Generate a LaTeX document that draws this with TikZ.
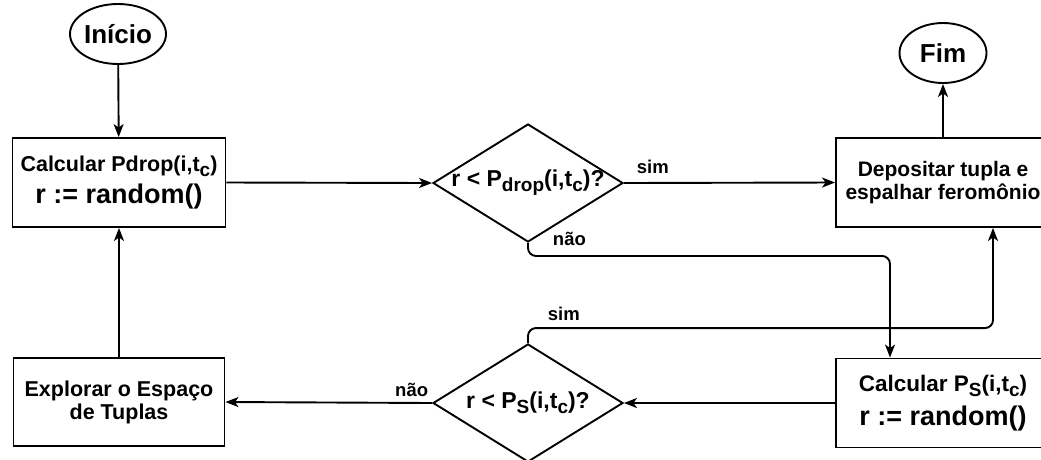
\documentclass[tikz,border=0pt]{standalone}
\usepackage{fontspec}
\setmainfont{Liberation Sans}
\usetikzlibrary{arrows.meta,shapes.geometric}
\newcommand\sbx[1]{\raisebox{-5pt}{\fontsize{19}{21}\selectfont #1}}
\begin{document}
\begin{tikzpicture}[x=1pt,y=-1pt,
  lw/.style={line width=1.9pt},
  box/.style={draw, lw, rectangle, minimum width=213pt, minimum height=89pt, inner sep=0pt, align=center},
  term/.style={draw, lw, ellipse, minimum width=87pt, minimum height=60pt, inner sep=0pt, font=\bfseries\fontsize{26}{30}\selectfont},
  dia/.style={draw, lw, diamond, minimum width=190pt, minimum height=118pt, inner sep=0pt},
  dtext/.style={inner sep=0pt, font=\bfseries\fontsize{23}{26}\selectfont},
  lbl/.style={inner sep=0pt, font=\bfseries\fontsize{18.5}{22}\selectfont},
  arr/.style={lw, -{Stealth[length=13pt,width=10pt,inset=3.5pt]}}
]
\useasboundingbox (0,0) rectangle (1041,459);
% terminals
\node[term] (ini) at (118,34) {Início};
\node[term] (fim) at (943,53) {Fim};
% boxes
\node[box, font=\bfseries\fontsize{27}{32}\selectfont] (c1) at (119,182.5)
  {{\fontsize{21.5}{25}\selectfont Calcular Pdrop(i,t\sbx{c})}\\ r := random()};
\node[box, minimum width=214pt, font=\bfseries\fontsize{21}{23}\selectfont] (dep) at (943,182.5)
  {Depositar tupla e\\ espalhar feromônio};
\node[box, minimum width=214pt, font=\bfseries\fontsize{27}{34}\selectfont] (c4) at (943,403)
  {{\fontsize{22.5}{26}\selectfont Calcular P\sbx{S}(i,t\sbx{c})}\\ r := random()};
\node[box, minimum width=211pt, minimum height=88pt, font=\bfseries\fontsize{21.5}{23}\selectfont] (exp) at (119,402)
  {Explorar o Espaço\\ de Tuplas};
% decisions
\node[dia] (d1) at (528,183) {};
\node[dtext] (d1t) at (d1.center) {r < P\sbx{drop}(i,t\sbx{c})?};
\node[dia] (d2) at (528,403) {};
\node[dtext] (d2t) at (d2.center) {r < P\sbx{S}(i,t\sbx{c})?};
% connectors
\draw[arr] (ini) -- (c1);
\draw[arr] (c1.east) -- (d1.west);
\draw[arr] (d1.east) -- node[lbl, pos=0, anchor=base west, xshift=12pt, yshift=10pt] {sim} (dep.west);
\draw[arr] (dep) -- (fim);
\draw[arr, rounded corners=8pt] (d1.south) -- node[lbl, pos=0.2, anchor=base west, xshift=24pt] {não} ++(0,13) -| ([xshift=-53pt]c4.north);
\draw[arr, rounded corners=8pt] (d2.north) -- node[lbl, pos=1, anchor=base west, xshift=19pt, yshift=8pt] {sim} ++(0,-15) -| ([xshift=50pt]dep.south);
\draw[arr] (c4.west) -- (d2.east);
\draw[arr] (d2.west) -- node[lbl, pos=0, anchor=base east, xshift=-3pt, yshift=7pt] {não} (exp.east);
\draw[arr] (exp) -- (c1);
\end{tikzpicture}
\end{document}
